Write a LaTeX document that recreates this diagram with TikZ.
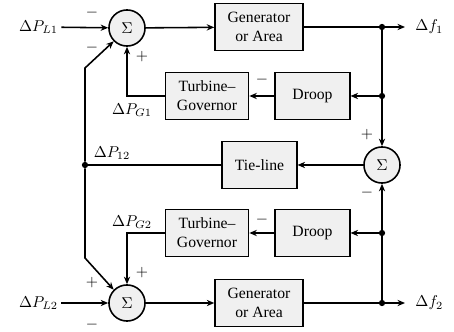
\documentclass[tikz,border=0pt]{standalone}
\usepackage{fontspec}
\setmainfont{Liberation Serif}
\usetikzlibrary{positioning,arrows.meta}
\tikzset{
  figbox/.style={draw, line width=1pt, fill=black!6, align=center,
    minimum height=30pt, inner sep=2pt},
  figsum/.style={circle, draw, line width=1pt, fill=black!6, minimum size=23pt, inner sep=0pt},
  figarrow/.style={-{Stealth[length=4.8pt,width=4pt]}, line width=1pt},
  figline/.style={line width=1pt},
  figdot/.style={circle, fill, inner sep=0pt, minimum size=4pt},
  figlabel/.style={inner sep=2pt},
}

\begin{document}
\begin{tikzpicture}[x=0.0224cm, y=-0.0224cm]
  \useasboundingbox (0,0) rectangle (454,332);
  % area 1
  \node[figlabel] (PL1) at (38.5,27) {$\Delta P_{L1}$};
  \node[figsum] (s1) at (127,28) {$\Sigma$};
  \node[figbox, minimum width=56pt] (g1) at (259,27) {Generator\\or Area};
  \node[figbox, minimum width=53pt] (t1) at (207,96) {Turbine--\\Governor};
  \node[figbox, minimum width=47.5pt] (d1) at (312.5,96) {Droop};
  \node[figdot] (o1) at (382,27) {};
  \node[figdot] (b1) at (382,96) {};
  \coordinate (f1) at (405,27);
  \node[figlabel, anchor=west] (df1) at (412,27) {$\Delta f_1$};
  \node[figlabel] (PG1) at (132,110) {$\Delta P_{G1}$};
  % tie-line
  \node[figsum] (s3) at (382,165) {$\Sigma$};
  \node[figbox, minimum width=47.5pt] (tl) at (259.5,165) {Tie-line};
  \node[figdot] (p12) at (85,165) {};
  \node[figlabel] (P12) at (112,153) {$\Delta P_{12}$};
  \coordinate (k1) at (85,68);
  \coordinate (k2) at (85,258);
  % area 2
  \node[figlabel] (PL2) at (38.5,303) {$\Delta P_{L2}$};
  \node[figsum] (s2) at (127,303) {$\Sigma$};
  \node[figbox, minimum width=56pt] (g2) at (259,303) {Generator\\or Area};
  \node[figbox, minimum width=53pt] (t2) at (207,233) {Turbine--\\Governor};
  \node[figbox, minimum width=47.5pt] (d2) at (312.5,233) {Droop};
  \node[figdot] (o2) at (382,303) {};
  \node[figdot] (b2) at (382,233) {};
  \coordinate (f2) at (405,303);
  \node[figlabel, anchor=west] (df2) at (412,303) {$\Delta f_2$};
  \node[figlabel] (PG2) at (132,222) {$\Delta P_{G2}$};
  % signs
  \node at (92,13) {$-$};
  \node at (92,48) {$-$};
  \node at (142,57) {$+$};
  \node at (262,80) {$-$};
  \node at (367,135) {$+$};
  \node at (367,193) {$-$};
  \node at (262,220) {$-$};
  \node at (142,273) {$+$};
  \node at (92,283) {$+$};
  \node at (92,325) {$-$};
  % connectors
  \draw[figarrow] (PL1) -- (s1);
  \draw[figarrow] (s1) -- (g1);
  \draw[figline] (g1) -- (o1);
  \draw[figarrow] (o1) -- (f1);
  \draw[figarrow] (o1) -- (s3);
  \draw[figarrow] (b1) -- (d1);
  \draw[figarrow] (d1) -- (t1);
  \draw[figarrow] (t1.west) -| (s1);
  \draw[figarrow] (s3) -- (tl);
  \draw[figline] (tl) -- (p12);
  \draw[figarrow] (p12) -- (k1) -- (s1.south west);
  \draw[figarrow] (p12) -- (k2) -- (s2.north west);
  \draw[figarrow] (PL2) -- (s2);
  \draw[figarrow] (s2) -- (g2);
  \draw[figline] (g2) -- (o2);
  \draw[figarrow] (o2) -- (f2);
  \draw[figarrow] (o2) -- (s3);
  \draw[figarrow] (b2) -- (d2);
  \draw[figarrow] (d2) -- (t2);
  \draw[figarrow] (t2.west) -| (s2);
\end{tikzpicture}
\end{document}
